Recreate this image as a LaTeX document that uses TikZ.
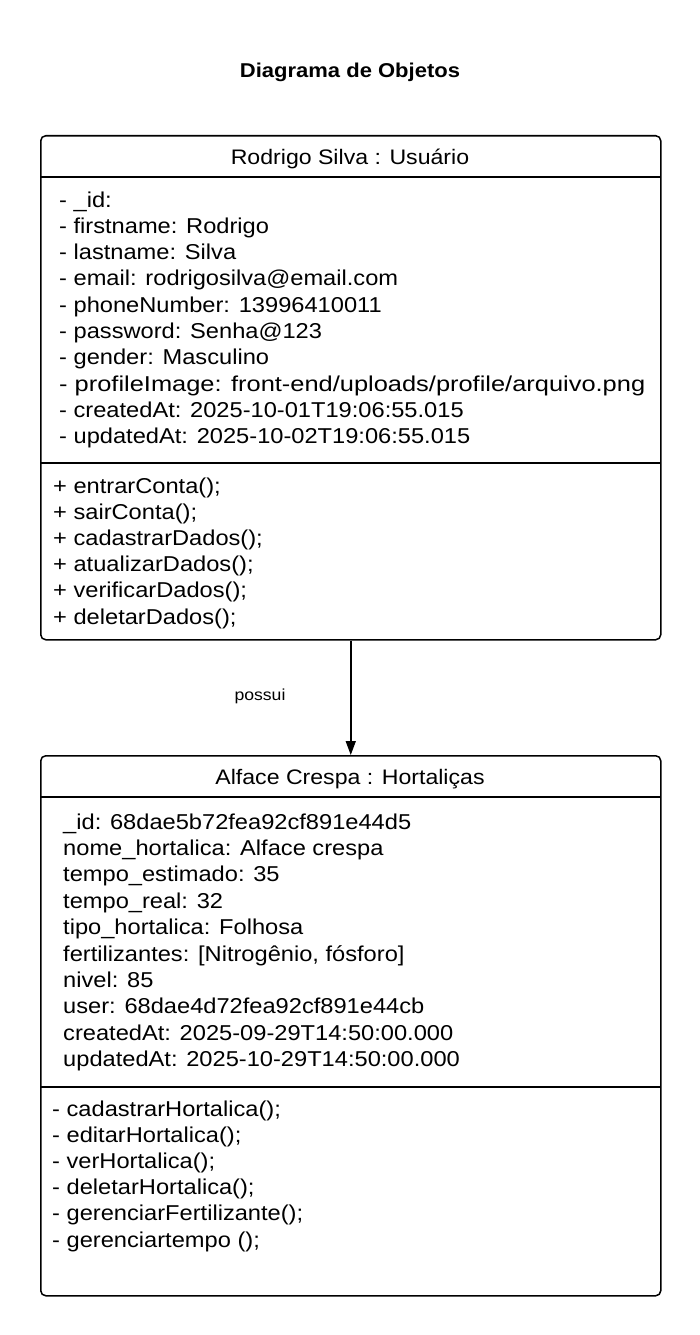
\documentclass[tikz,border=0pt]{standalone}
\usepackage{graphicx}
\usepackage{fontspec}
\setmainfont[FakeStretch=1.1]{Liberation Sans}
\usetikzlibrary{arrows.meta}
\begin{document}
\begin{tikzpicture}[x=1pt,y=-1pt,
  objbox/.style={draw, line width=1.5pt, rounded corners=5pt, minimum width=620pt, inner sep=0pt, anchor=north west},
  sepline/.style={line width=1.5pt},
  headtxt/.style={anchor=base, inner sep=0pt, font=\fontsize{21}{25}\selectfont},
  txt/.style={anchor=base west, inner sep=0pt, font=\fontsize{21.5}{25}\selectfont},
  titletxt/.style={anchor=base, inner sep=0pt, font=\fontsize{20}{24}\selectfont\bfseries},
  lbltxt/.style={anchor=base, inner sep=0pt, font=\fontsize{16}{19}\selectfont},
  link/.style={line width=1.5pt, -{Triangle[length=14pt,width=10pt]}}]
\useasboundingbox (0,0) rectangle (700,1335);

\node[titletxt] (title) at (350,78) {Diagrama de Objetos};

% Box 1
\node[objbox, minimum height=504pt] (usuario) at (40,135) {};
\node[headtxt] (h1) at (350,164) {Rodrigo Silva : Usuário};
\draw[sepline] (40,177) -- (660,177);
\foreach \t [count=\i from 0] in {
  - \_id:,
  - firstname: Rodrigo,
  - lastname: Silva,
  - email: rodrigosilva@email.com,
  - phoneNumber: 13996410011,
  - password: Senha@123,
  - gender: Masculino,
  {\scalebox{1.075}[1]{- profileImage: front-end/uploads/profile/arquivo.png}},
  - createdAt: 2025-10-01T19:06:55.015,
  - updatedAt: 2025-10-02T19:06:55.015}
  \node[txt] (ua\i) at (59,207+26.3*\i) {\t};
\draw[sepline] (40,463) -- (660,463);
\foreach \t [count=\i from 0] in {
  + entrarConta();,
  + sairConta();,
  + cadastrarDados();,
  + atualizarDados();,
  + verificarDados();,
  + deletarDados();}
  \node[txt] (um\i) at (53,493+26.2*\i) {\t};

% Box 2
\node[objbox, minimum height=540pt] (hortalica) at (40,755) {};
\node[headtxt] (h2) at (350,784) {Alface Crespa : Hortaliças};
\draw[sepline] (40,797) -- (660,797);
\foreach \t [count=\i from 0] in {
  \_id: 68dae5b72fea92cf891e44d5,
  nome\_hortalica: Alface crespa,
  tempo\_estimado: 35,
  tempo\_real: 32,
  tipo\_hortalica: Folhosa,
  {fertilizantes: [Nitrogênio, fósforo]},
  nivel: 85,
  user: 68dae4d72fea92cf891e44cb,
  createdAt: 2025-09-29T14:50:00.000,
  updatedAt: 2025-10-29T14:50:00.000}
  \node[txt] (ha\i) at (63,829+26.4*\i) {\t};
\draw[sepline] (40,1087) -- (660,1087);
\foreach \t [count=\i from 0] in {
  - cadastrarHortalica();,
  - editarHortalica();,
  - verHortalica();,
  - deletarHortalica();,
  - gerenciarFertilizante();,
  - gerenciartempo ();}
  \node[txt] (hm\i) at (52,1116+26.2*\i) {\t};

% Connector
\draw[link] (usuario.south) -- (hortalica.north);
\node[lbltxt] (possui) at (260,700) {possui};
\end{tikzpicture}
\end{document}
